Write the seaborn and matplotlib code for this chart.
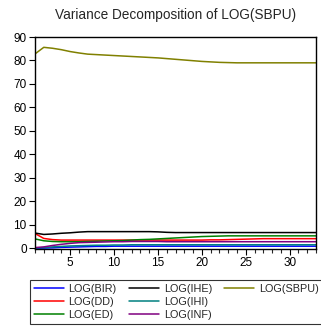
import numpy as np
import pandas as pd
import matplotlib
matplotlib.use("Agg")
import matplotlib.pyplot as plt
import seaborn as sns
from matplotlib.lines import Line2D
from matplotlib.ticker import MultipleLocator

sns.set_style("white")
plt.rcParams['font.family'] = ['Liberation Sans', 'DejaVu Sans']

periods = list(range(1, 34))
BIR = [0.0, 0.1, 0.2, 0.4, 0.5, 0.6, 0.7, 0.8, 0.8, 0.9, 0.9, 0.9, 0.9, 0.9, 0.9, 0.9, 0.9,
       0.9, 0.9, 0.9, 0.9, 0.9, 0.9, 0.9, 0.9, 0.9, 0.9, 0.9, 0.9, 0.9, 0.9, 0.9, 0.9]
DD = [6.3, 4.2, 3.7, 3.5, 3.5, 3.5, 3.5, 3.5, 3.5, 3.5, 3.5, 3.5, 3.5, 3.5, 3.5, 3.5, 3.5,
      3.5, 3.5, 3.5, 3.6, 3.6, 3.7, 3.8, 3.9, 4.0, 4.1, 4.1, 4.1, 4.1, 4.1, 4.1, 4.1]
ED = [4.0, 3.2, 2.9, 2.8, 2.8, 2.8, 2.9, 3.0, 3.1, 3.2, 3.3, 3.5, 3.7, 3.8, 4.0, 4.2, 4.4,
      4.6, 4.8, 5.0, 5.1, 5.2, 5.3, 5.3, 5.3, 5.3, 5.3, 5.3, 5.3, 5.3, 5.3, 5.3, 5.3]
IHE = [6.5, 5.9, 6.1, 6.4, 6.6, 6.9, 7.1, 7.1, 7.1, 7.1, 7.1, 7.1, 7.1, 7.1, 7.0, 6.8, 6.7,
       6.7, 6.7, 6.7, 6.7, 6.7, 6.7, 6.7, 6.7, 6.7, 6.7, 6.7, 6.7, 6.7, 6.7, 6.7, 6.7]
IHI = [0.1, 0.3, 0.6, 0.8, 1.0, 1.1, 1.2, 1.3, 1.3, 1.4, 1.4, 1.5, 1.5, 1.5, 1.5, 1.5, 1.5,
       1.5, 1.5, 1.5, 1.5, 1.5, 1.5, 1.5, 1.5, 1.5, 1.5, 1.5, 1.5, 1.5, 1.5, 1.5, 1.5]
INF = [0.3, 0.6, 1.2, 1.7, 2.1, 2.4, 2.5, 2.6, 2.7, 2.8, 2.8, 2.9, 2.9, 2.9, 2.9, 2.8, 2.8,
       2.8, 2.8, 2.8, 2.8, 2.8, 2.8, 2.8, 2.8, 2.8, 2.8, 2.8, 2.8, 2.8, 2.8, 2.8, 2.8]
SBPU = [82.8, 85.6, 85.2, 84.6, 83.8, 83.2, 82.7, 82.5, 82.3, 82.1, 81.9, 81.7, 81.5, 81.3,
        81.1, 80.8, 80.5, 80.2, 79.9, 79.6, 79.4, 79.2, 79.1, 79.0, 79.0, 79.0, 79.0, 79.0,
        79.0, 79.0, 79.0, 79.0, 79.0]

names = ["LOG(BIR)", "LOG(DD)", "LOG(ED)", "LOG(IHE)", "LOG(IHI)", "LOG(INF)", "LOG(SBPU)"]
series = [BIR, DD, ED, IHE, IHI, INF, SBPU]
colors = ["#0000ff", "#ff0000", "#008000", "#000000", "#008080", "#800080", "#808000"]
title = "Variance Decomposition of LOG(SBPU)"

df = pd.concat([pd.DataFrame({"period": periods, "value": v, "series": n})
                for n, v in zip(names, series)], ignore_index=True)

fig = plt.figure(figsize=(3.21, 3.28), dpi=100)
ax = fig.add_axes([35/321, 1-249/328, (316-35)/321, (249-37)/328])
sns.lineplot(data=df, x="period", y="value", hue="series", hue_order=names,
             palette=dict(zip(names, colors)), linewidth=1.1, legend=False, ax=ax)

ax.set_xlim(1, 33)
ax.set_ylim(-0.3, 90)
ax.set_xlabel("")
ax.set_ylabel("")
ax.set_xticks([5, 10, 15, 20, 25, 30])
ax.xaxis.set_minor_locator(MultipleLocator(1))
ax.set_yticks(range(0, 91, 10))
ax.tick_params(axis="both", which="major", direction="out", length=4, width=0.8,
               labelsize=8.5, pad=2, colors="black", bottom=True, left=True)
ax.tick_params(axis="x", which="minor", direction="out", length=3, width=0.8, bottom=True)
for s in ax.spines.values():
    s.set_color("black")
    s.set_linewidth(1.0)
ax.set_title(title, fontsize=9.8, pad=13)

handles = [Line2D([], [], color=c, lw=1.1) for c in colors]
labels = list(names)
handles += [Line2D([], [], color="none"), Line2D([], [], color="none")]
labels += ["", ""]
leg = fig.legend(handles, labels, loc="upper left", ncol=3,
                 bbox_to_anchor=(30/321, 1-280/328), frameon=True, fontsize=7.8,
                 handlelength=2.75, handletextpad=0.45, columnspacing=1.15,
                 labelspacing=0.3, borderpad=0.35, borderaxespad=0)
leg.get_frame().set_edgecolor("black")
leg.get_frame().set_linewidth(0.8)
leg.get_frame().set_boxstyle("square", pad=0)

fig.savefig("out.png", dpi=100)
